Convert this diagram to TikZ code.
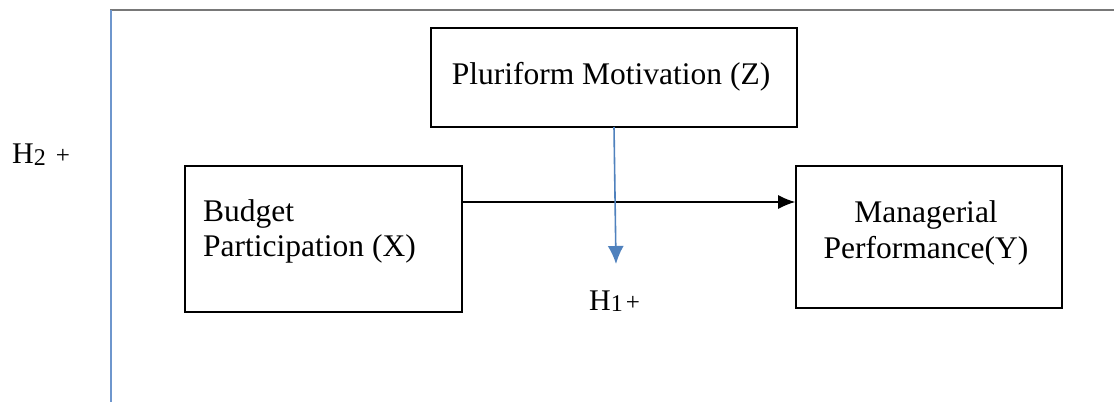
\documentclass[tikz,border=0pt]{standalone}
\usepackage{fontspec}
\setmainfont{Liberation Serif}
\usetikzlibrary{arrows.meta}
\definecolor{lineblue}{RGB}{79,129,189}
\definecolor{paleblue}{RGB}{110,150,205}
\definecolor{topgray}{RGB}{120,120,120}
\begin{document}
\begin{tikzpicture}[x=1pt,y=-1pt,
  boxstyle/.style={draw=black,line width=1.6pt,rectangle,inner sep=0pt},
  txt/.style={inner sep=0pt,font=\fontsize{31.5}{36}\selectfont},
  hyp/.style={inner sep=0pt,font=\fontsize{30}{34}\selectfont}]
\useasboundingbox (0,0) rectangle (1114,402);
% frame lines
\coordinate (tl) at (110,10);
\coordinate (tr) at (1114,10);
\coordinate (bt) at (111,10);
\coordinate (bl) at (111,402);
\draw[topgray,line width=2.2pt] (tl) -- (tr);
\draw[paleblue,line width=2pt] (bt) -- (bl);
% boxes
\node[boxstyle,minimum width=366pt,minimum height=99pt] (Z) at (614,77.5) {};
\node[boxstyle,minimum width=277pt,minimum height=146pt] (X) at (323.5,239) {};
\node[boxstyle,minimum width=266pt,minimum height=142pt] (Y) at (929,237) {};
% texts
\node[txt,anchor=base] (Zt) at (611,84) {Pluriform Motivation (Z)};
\node[txt,anchor=base west] (Xt1) at (203,221) {Budget};
\node[txt,anchor=base west] (Xt2) at (203,256) {Participation (X)};
\node[txt,anchor=base] (Yt1) at (926,222) {Managerial};
\node[txt,anchor=base] (Yt2) at (926,258) {Performance(Y)};
% hypotheses
\node[hyp,anchor=base west] (H1) at (589,310) {H\raisebox{-1pt}{\fontsize{24}{26}\selectfont 1}\hspace{3pt}{\fontsize{25}{26}\selectfont +}};
\node[hyp,anchor=base west] (H2) at (12,163) {H\raisebox{-2pt}{\fontsize{24}{26}\selectfont 2}\hspace{10pt}{\fontsize{25}{26}\selectfont +}};
% connectors
\coordinate (Xe) at (X.east |- 0,202);
\coordinate (Yw) at (Y.west |- 0,202);
\draw[black,line width=1.4pt,-{Latex[length=17pt,width=14pt]}] (Xe) -- (Yw);
\coordinate (Zb) at (614,127);
\coordinate (Ztip) at (616,264);
\draw[lineblue,line width=1.6pt,-{Latex[length=18pt,width=16pt]}] (Zb) -- (Ztip);
\end{tikzpicture}
\end{document}
